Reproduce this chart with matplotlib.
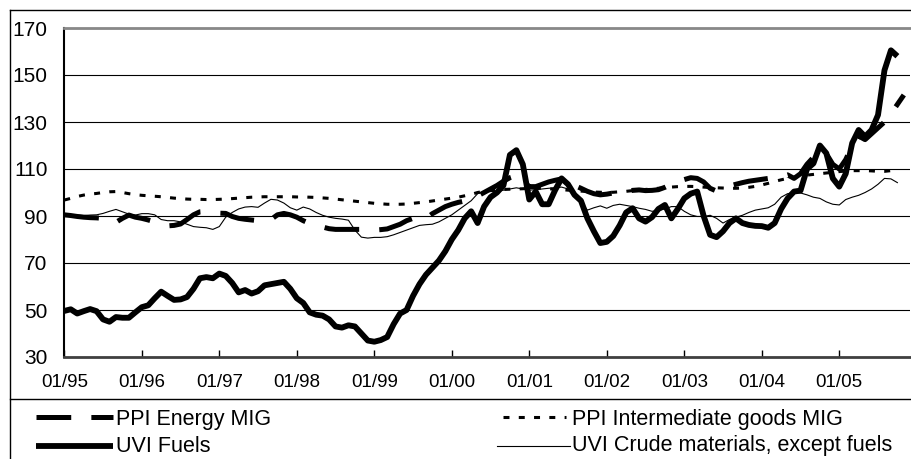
import matplotlib
matplotlib.use('Agg')
import matplotlib.pyplot as plt
from matplotlib.lines import Line2D
import numpy as np

plt.rcParams['font.family'] = ['Liberation Sans', 'DejaVu Sans']
plt.rcParams['lines.scale_dashes'] = False

# ---------------- data (monthly, starting 01/95) ----------------
tick_labels = ['01/95', '01/96', '01/97', '01/98', '01/99', '01/00',
               '01/01', '01/02', '01/03', '01/04', '01/05']

series_names = ['PPI Energy MIG', 'PPI Intermediate goods MIG',
                'UVI Fuels', 'UVI Crude materials, except fuels']

uvi_fuels = [
    49.6, 50.3, 48.5, 49.5, 50.4, 49.5, 46.0, 45.0, 47.0, 46.7, 46.7, 49.0,
    51.2, 52.0, 55.0, 57.8, 56.0, 54.3, 54.5, 55.5, 59.0, 63.5, 64.0, 63.5,
    65.5, 64.5, 61.5, 57.5, 58.5, 57.0, 58.0, 60.5, 61.0, 61.5, 62.0, 59.0,
    55.0, 53.0, 49.0, 48.0, 47.6, 46.0, 43.0, 42.5, 43.5, 43.0, 40.0, 37.0,
    36.5, 37.2, 38.5, 44.0, 48.5, 50.0, 56.0, 61.0, 65.0, 68.0, 71.0, 75.0,
    80.0, 84.0, 89.0, 92.0, 87.0, 94.0, 98.0, 100.0, 103.0, 116.0, 118.0, 112.0,
    97.0, 100.4, 95.0, 95.0, 101.0, 106.0, 103.5, 99.0, 96.5, 89.0, 83.5, 78.5,
    79.0, 81.5, 86.0, 91.5, 93.3, 89.0, 87.6, 89.5, 93.0, 94.7, 89.0, 93.0,
    97.5, 99.5, 100.4, 90.0, 82.0, 81.0, 83.5, 87.0, 89.0, 87.0, 86.2, 85.8,
    85.7, 85.0, 87.0, 93.0, 97.5, 100.4, 100.8, 110.0, 112.4, 120.0, 116.7, 106.0,
    102.5, 108.0, 121.0, 126.6, 123.8, 126.6, 133.0, 152.0, 160.5, 158.0,
]

uvi_crude = [
    90.2, 90.3, 90.4, 90.2, 90.4, 90.5, 91.1, 92.0, 92.8, 91.8, 90.8, 90.4,
    91.0, 91.0, 90.5, 88.5, 88.0, 88.0, 87.5, 86.5, 85.5, 85.2, 85.0, 84.3,
    85.5, 89.5, 91.5, 93.0, 93.8, 94.0, 93.7, 95.5, 97.1, 96.8, 95.5, 93.5,
    92.5, 93.8, 93.0, 91.5, 90.3, 89.5, 89.0, 88.7, 88.2, 84.0, 81.0, 80.6,
    80.9, 80.9, 81.2, 82.0, 83.0, 84.0, 85.0, 86.0, 86.3, 86.5, 87.5, 89.0,
    90.5, 92.5, 94.5, 96.5, 99.5, 100.3, 100.5, 100.5, 101.0, 101.5, 102.0, 101.5,
    101.0, 101.2, 101.5, 101.8, 102.0, 102.3, 101.5, 100.0, 96.0, 92.5, 93.5, 94.3,
    93.3, 94.5, 95.0, 94.5, 94.0, 93.3, 92.8, 92.0, 92.3, 93.0, 94.0, 94.0,
    92.0, 90.5, 89.8, 89.8, 90.3, 89.0, 87.0, 88.5, 89.5, 90.3, 91.5, 92.5,
    93.0, 93.5, 95.0, 98.0, 99.5, 99.8, 99.8, 99.0, 98.0, 97.5, 96.0, 95.0,
    94.7, 97.0, 98.0, 98.8, 100.0, 101.5, 103.5, 106.0, 105.8, 104.2,
]

ppi_intermediate = [
    96.8, 97.5, 98.3, 98.9, 99.3, 99.6, 100.0, 100.3, 100.4, 100.0, 99.5, 99.1,
    98.8, 98.6, 98.4, 98.2, 97.9, 97.6, 97.4, 97.2, 97.1, 97.1, 97.0, 97.0,
    97.1, 97.2, 97.4, 97.6, 97.8, 98.0, 98.1, 98.2, 98.2, 98.2, 98.2, 98.2,
    98.1, 98.1, 98.0, 97.9, 97.7, 97.5, 97.2, 96.9, 96.6, 96.3, 96.0, 95.7,
    95.4, 95.2, 95.0, 95.0, 95.0, 95.1, 95.4, 95.7, 96.0, 96.4, 96.8, 97.2,
    97.6, 98.0, 98.6, 99.2, 100.0, 100.5, 100.8, 101.1, 101.3, 101.4, 101.5, 101.6,
    101.8, 101.9, 101.8, 101.6, 101.4, 101.2, 101.0, 100.8, 100.6, 100.4, 100.2, 100.1,
    100.0, 100.1, 100.3, 100.5, 100.8, 101.0, 101.3, 101.5, 101.8, 102.0, 102.3, 102.5,
    102.6, 102.6, 102.5, 102.3, 102.1, 102.0, 101.9, 101.8, 101.8, 101.9, 102.2, 102.6,
    103.2, 103.9, 104.7, 105.4, 106.0, 106.5, 107.0, 107.4, 107.7, 108.0, 108.3, 108.6,
    108.9, 109.1, 109.3, 109.3, 109.3, 109.2, 109.0, 109.0, 109.3, 109.6,
]

ppi_energy = [
    90.5, 90.2, 89.8, 89.5, 89.3, 89.2, 89.0, 87.5, 87.3, 89.0, 90.4, 89.5,
    89.0, 88.3, 87.5, 86.5, 85.8, 86.0, 86.6, 88.5, 90.5, 91.8, 92.0, 91.6,
    91.2, 91.1, 89.8, 89.0, 88.6, 88.3, 88.0, 88.0, 88.5, 90.5, 91.1, 90.5,
    89.5, 88.0, 86.8, 86.0, 85.3, 84.6, 84.3, 84.3, 84.3, 84.3, 84.3, 84.2,
    84.0, 84.2, 84.5, 85.5, 86.5, 88.0, 89.0, 88.3, 89.0, 91.0, 92.5, 94.0,
    95.0, 95.8, 96.4, 96.9, 98.5, 100.0, 101.5, 103.0, 104.8, 106.3, 107.2, 105.0,
    102.5, 102.5, 103.5, 104.5, 105.2, 105.8, 104.5, 103.0, 101.8, 100.5, 99.5, 99.0,
    99.3, 99.8, 100.2, 100.5, 100.9, 101.1, 100.8, 100.9, 101.2, 102.2, 103.5, 104.5,
    105.5, 106.3, 106.0, 104.5, 101.8, 100.6, 101.5, 102.8, 103.5, 104.2, 104.8, 105.2,
    105.6, 106.0, 106.3, 106.7, 107.5, 106.0, 108.0, 112.0, 115.0, 118.0, 116.5, 112.0,
    110.0, 114.0, 120.0, 124.0, 122.5, 125.0, 127.5, 130.0, 133.5, 137.5, 141.5,
]

y_ticks = [30, 50, 70, 90, 110, 130, 150, 170]

# ---------------- figure ----------------
W, H = 911, 459
fig = plt.figure(figsize=(W / 100, H / 100), dpi=100)


def fx(px):
    return px / W


def fy(py):
    return 1 - py / H


ax = fig.add_axes([fx(64.3), fy(357), fx(910.3) - fx(64.3), fy(28) - fy(357)])

ax.plot(np.arange(len(uvi_crude)), uvi_crude, color='black', lw=0.8, zorder=3)
ax.plot(np.arange(len(ppi_intermediate)), ppi_intermediate, color='black', lw=2.2,
        dashes=(4.3, 6.7), dash_capstyle='butt', zorder=4)
ax.plot(np.arange(len(ppi_energy)), ppi_energy, color='black', lw=3.6,
        dashes=(25, 14.5), dash_capstyle='butt', zorder=5)
ax.plot(np.arange(len(uvi_fuels)), uvi_fuels, color='black', lw=4.2,
        solid_joinstyle='round', solid_capstyle='butt', zorder=6)

ax.set_xlim(0, 131)
ax.set_ylim(30, 170)
ax.set_yticks(y_ticks)
ax.set_yticklabels([str(v) for v in y_ticks])
ax.set_xticks(np.arange(len(tick_labels)) * 12)
ax.set_xticklabels(tick_labels)
ax.yaxis.grid(True, color='black', lw=0.8)
ax.set_axisbelow(True)
ax.tick_params(axis='y', length=0, pad=12, labelsize=15)
ax.tick_params(axis='x', direction='in', length=5, width=1, pad=12, labelsize=13.5)

ax.spines['left'].set_color('black')
ax.spines['left'].set_linewidth(1.5)
ax.spines['bottom'].set_color('#404040')
ax.spines['bottom'].set_linewidth(2)
ax.spines['top'].set_color('#888888')
ax.spines['top'].set_linewidth(2)
ax.spines['right'].set_visible(False)

# outer frame and separator
tf = fig.transFigure
fig.add_artist(Line2D([fx(10), fx(10)], [fy(10), 0], transform=tf, color='black', lw=1))
fig.add_artist(Line2D([fx(10), 1], [fy(10), fy(10)], transform=tf, color='black', lw=1))
fig.add_artist(Line2D([fx(10), 1], [fy(399), fy(399)], transform=tf, color='black', lw=1))

# legend (manual layout)
leg_font = 15.5
row1, row2 = 419, 446
fig.add_artist(Line2D([fx(36), fx(113)], [fy(row1 - 2), fy(row1 - 2)], transform=tf,
                      color='black', lw=3.6, dashes=(25, 14.5), dash_capstyle='butt'))
fig.text(fx(116), fy(row1), series_names[0], fontsize=leg_font, va='center', ha='left')
fig.add_artist(Line2D([fx(36), fx(113)], [fy(row2), fy(row2)], transform=tf,
                      color='black', lw=4.2, solid_capstyle='butt'))
fig.text(fx(116), fy(row2), series_names[2], fontsize=leg_font, va='center', ha='left')
fig.add_artist(Line2D([fx(503), fx(566)], [fy(row1 - 2), fy(row1 - 2)], transform=tf,
                      color='black', lw=2.2, dashes=(4.3, 6.7), dash_capstyle='butt'))
fig.text(fx(572), fy(row1), series_names[1], fontsize=leg_font, va='center', ha='left')
fig.add_artist(Line2D([fx(497), fx(570)], [fy(row2), fy(row2)], transform=tf,
                      color='black', lw=0.8))
fig.text(fx(572), fy(row2), series_names[3], fontsize=leg_font, va='center', ha='left')

fig.savefig('out.png', dpi=100)
